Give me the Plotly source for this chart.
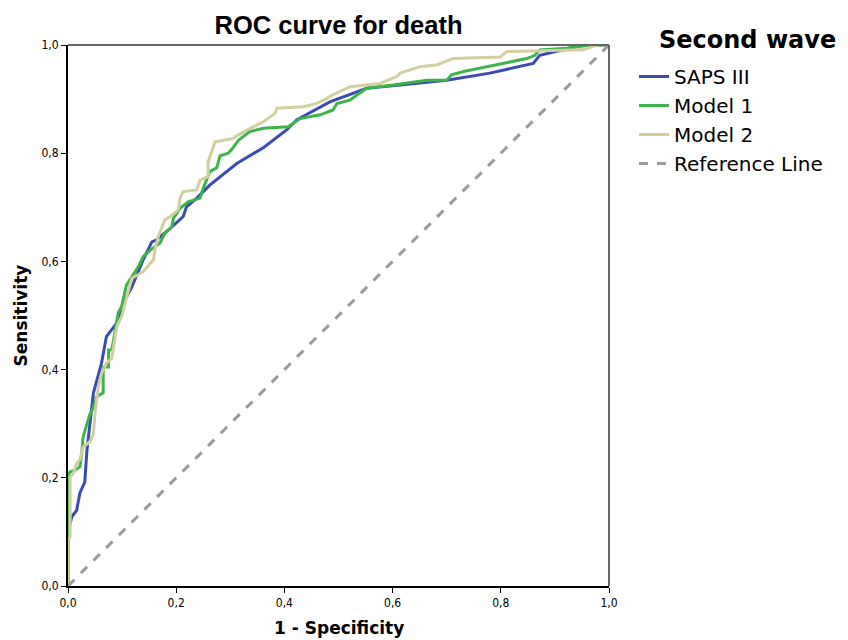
import plotly.graph_objects as go

# ---- data ----
saps_x = [0, 0, 0.007, 0.016, 0.022, 0.031, 0.035, 0.047, 0.062, 0.071, 0.09, 0.105, 0.118, 0.139,
          0.155, 0.164, 0.189, 0.213, 0.219, 0.238, 0.262, 0.312, 0.361, 0.404, 0.423, 0.429, 0.484,
          0.503, 0.552, 0.614, 0.7, 0.78, 0.86, 0.872, 0.952, 1]
saps_y = [0, 0.098, 0.128, 0.14, 0.172, 0.192, 0.251, 0.357, 0.412, 0.461, 0.486, 0.528, 0.553, 0.603,
          0.636, 0.64, 0.661, 0.683, 0.701, 0.717, 0.741, 0.781, 0.81, 0.843, 0.862, 0.865, 0.895,
          0.902, 0.92, 0.926, 0.935, 0.948, 0.966, 0.981, 1.0, 1.0]

m1_x = [0, 0, 0.004, 0.013, 0.022, 0.025, 0.028, 0.035, 0.04, 0.047, 0.053, 0.065, 0.065, 0.075, 0.075,
        0.081, 0.087, 0.093, 0.099, 0.108, 0.13, 0.139, 0.152, 0.17, 0.179, 0.192, 0.195, 0.207, 0.222,
        0.244, 0.25, 0.256, 0.262, 0.275, 0.281, 0.296, 0.305, 0.315, 0.336, 0.361, 0.389, 0.407, 0.429,
        0.466, 0.49, 0.497, 0.521, 0.54, 0.552, 0.601, 0.663, 0.7, 0.709, 0.731, 0.762, 0.792, 0.817,
        0.848, 0.863, 0.872, 0.922, 0.965, 1]
m1_y = [0, 0.205, 0.211, 0.214, 0.22, 0.242, 0.276, 0.301, 0.316, 0.331, 0.35, 0.357, 0.405, 0.405, 0.436,
        0.436, 0.467, 0.505, 0.516, 0.556, 0.59, 0.609, 0.621, 0.634, 0.652, 0.664, 0.68, 0.698, 0.71,
        0.717, 0.735, 0.75, 0.766, 0.773, 0.795, 0.8, 0.81, 0.824, 0.84, 0.846, 0.847, 0.849, 0.864,
        0.871, 0.88, 0.892, 0.898, 0.911, 0.92, 0.926, 0.935, 0.935, 0.945, 0.951, 0.957, 0.963, 0.969,
        0.975, 0.981, 0.991, 0.994, 1.0, 1.0]

m2_x = [0, 0, 0.004, 0.004, 0.01, 0.016, 0.022, 0.028, 0.041, 0.047, 0.05, 0.056, 0.062, 0.071, 0.081,
        0.087, 0.09, 0.099, 0.105, 0.118, 0.139, 0.158, 0.161, 0.167, 0.179, 0.189, 0.204, 0.207, 0.213,
        0.238, 0.244, 0.259, 0.259, 0.266, 0.272, 0.305, 0.315, 0.343, 0.361, 0.383, 0.386, 0.435, 0.46,
        0.478, 0.49, 0.521, 0.577, 0.608, 0.614, 0.651, 0.681, 0.712, 0.799, 0.811, 0.952, 0.977, 1]
m2_y = [0, 0.085, 0.091, 0.202, 0.208, 0.227, 0.233, 0.257, 0.267, 0.282, 0.319, 0.368, 0.393, 0.412, 0.421,
        0.455, 0.479, 0.498, 0.52, 0.569, 0.581, 0.603, 0.624, 0.646, 0.677, 0.683, 0.695, 0.717, 0.729,
        0.732, 0.75, 0.757, 0.784, 0.806, 0.821, 0.827, 0.834, 0.849, 0.858, 0.874, 0.883, 0.886, 0.892,
        0.901, 0.908, 0.923, 0.929, 0.942, 0.948, 0.96, 0.963, 0.975, 0.978, 0.988, 0.991, 1.0, 1.0]

ref_x = [0, 1]
ref_y = [0, 1]

tick_vals = [0, 0.2, 0.4, 0.6, 0.8, 1.0]
tick_text = ["0,0", "0,2", "0,4", "0,6", "0,8", "1,0"]

fig = go.Figure()
fig.add_trace(go.Scatter(x=saps_x, y=saps_y, mode="lines", name="SAPS III",
                         line=dict(color="#3a4bb3", width=3)))
fig.add_trace(go.Scatter(x=m1_x, y=m1_y, mode="lines", name="Model 1",
                         line=dict(color="#3bb44a", width=3)))
fig.add_trace(go.Scatter(x=m2_x, y=m2_y, mode="lines", name="Model 2",
                         line=dict(color="#d2cf9e", width=3)))
fig.add_trace(go.Scatter(x=ref_x, y=ref_y, mode="lines", name="Reference Line",
                         line=dict(color="#9a9a9a", width=3, dash="dash")))

tick_font = dict(family="DejaVu Sans Condensed, Liberation Sans Narrow, Arial", size=12, color="#000")
axis_title_font = dict(family="DejaVu Sans, Arial", size=17, color="#000")

# page body has an 8px margin, so the figure is laid out 8px in from the window edge
W, H = 840, 632
ML, MT = 60, 37
PW = PH = 541


def px_x(p):  # figure pixel -> paper x
    return (p - ML) / PW


def px_y(p):  # figure pixel (from top) -> paper y
    return (MT + PH - p) / PH


fig.update_layout(
    width=W, height=H,
    margin=dict(l=ML, r=W - ML - PW, t=MT, b=H - MT - PH, autoexpand=False),
    paper_bgcolor="white", plot_bgcolor="white",
    title=dict(text="<b>ROC curve for death</b>", x=(ML + PW / 2) / W, xanchor="center",
               y=1 - 17 / H, yanchor="middle",
               font=dict(family="Liberation Sans, Arial", size=25.5, color="#000")),
    showlegend=True,
    legend=dict(x=px_x(626), xanchor="left", y=px_y(49), yanchor="top",
                font=dict(family="DejaVu Sans, Arial", size=20, color="#000"),
                tracegroupgap=0, itemwidth=30, bgcolor="rgba(0,0,0,0)"),
    annotations=[
        dict(text="<b>Second wave</b>", xref="paper", yref="paper",
             x=px_x(649), xanchor="left", y=px_y(32), yanchor="middle", showarrow=False,
             font=dict(family="DejaVu Sans, Arial", size=24, color="#000")),
        dict(text="<b>1 - Specificity</b>", xref="paper", yref="paper",
             x=0.5, xanchor="center", y=px_y(620), yanchor="middle", showarrow=False,
             font=axis_title_font),
        dict(text="<b>Sensitivity</b>", xref="paper", yref="paper", textangle=-90,
             x=px_x(12), xanchor="center", y=0.5, yanchor="middle", showarrow=False,
             font=axis_title_font),
    ],
    xaxis=dict(range=[0, 1], tickvals=tick_vals, ticktext=tick_text, ticks="outside", ticklen=5,
               tickcolor="#000", tickwidth=1, showgrid=False, zeroline=False, showline=True,
               linecolor="#000", linewidth=2, tickfont=tick_font, automargin=False),
    yaxis=dict(range=[0, 1], tickvals=tick_vals, ticktext=tick_text, ticks="outside", ticklen=5,
               tickcolor="#000", tickwidth=1, showgrid=False, zeroline=False, showline=True,
               linecolor="#000", linewidth=2, tickfont=tick_font, automargin=False),
    shapes=[
        dict(type="line", xref="x domain", yref="y domain", x0=0, x1=1, y0=1, y1=1,
             line=dict(color="#666", width=2)),
        dict(type="line", xref="x domain", yref="y domain", x0=1, x1=1, y0=0, y1=1,
             line=dict(color="#666", width=2)),
    ],
)

fig.write_html("out.html")
